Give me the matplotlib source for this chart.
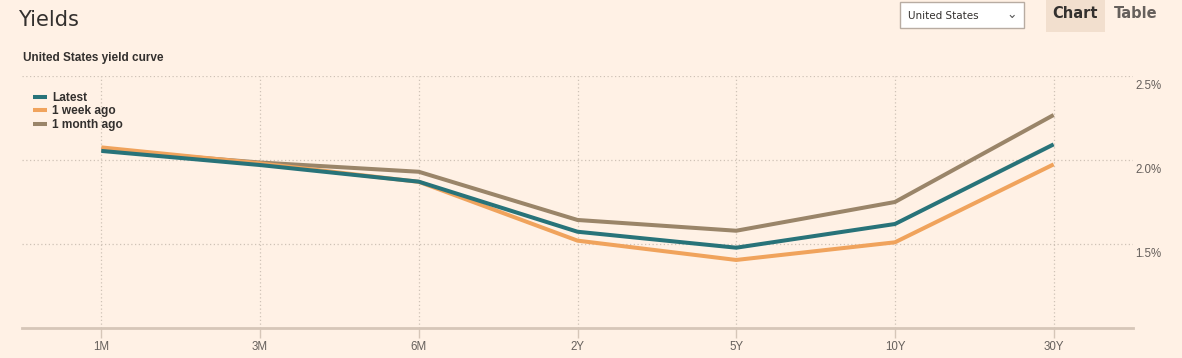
import matplotlib.pyplot as plt
from matplotlib.patches import Rectangle
from matplotlib.transforms import blended_transform_factory

maturities = ["1M", "3M", "6M", "2Y", "5Y", "10Y", "30Y"]
latest = [2.054, 1.970, 1.871, 1.573, 1.478, 1.619, 2.093]
week_ago = [2.075, 1.980, 1.870, 1.520, 1.405, 1.510, 1.974]
month_ago = [2.060, 1.985, 1.930, 1.643, 1.579, 1.750, 2.268]
y_ticks = [1.5, 2.0, 2.5]

BG = "#fff1e5"
GRID = "#cfc2b6"
TEXT = "#33302e"
TICK_TEXT = "#66605c"
ARIAL = "Liberation Sans"

fig = plt.figure(figsize=(11.82, 3.58), dpi=100, facecolor=BG)
ax = fig.add_axes([22 / 1182, 1 - 328 / 358, (1133 - 22) / 1182, (328 - 76) / 358])
ax.set_facecolor(BG)

x = range(len(maturities))
ax.plot(x, month_ago, color="#9a8569", lw=2.9, solid_capstyle="butt", label="1 month ago", zorder=3)
ax.plot(x, week_ago, color="#f0a35c", lw=2.9, solid_capstyle="butt", label="1 week ago", zorder=4)
ax.plot(x, latest, color="#287379", lw=2.9, solid_capstyle="butt", label="Latest", zorder=5)

ax.set_xlim(-0.5, len(maturities) - 0.5)
ax.set_ylim(1.0, 2.5)

for spine in ["top", "right", "left"]:
    ax.spines[spine].set_visible(False)
ax.spines["bottom"].set_color("#d6c6b8")
ax.spines["bottom"].set_linewidth(2)

ax.set_xticks(list(x))
ax.set_xticklabels(maturities, fontsize=8.3, color=TICK_TEXT, family=ARIAL)
ax.tick_params(axis="x", length=7, color="#d6c6b8", width=1, pad=2)
ax.set_yticks(y_ticks)
ax.set_yticklabels([])
ax.tick_params(axis="y", length=0)
ax.grid(True, which="major", color=GRID, linestyle=(0, (1, 2)), linewidth=0.9)

trans = blended_transform_factory(ax.transAxes, ax.transData)
for v in y_ticks:
    ax.text(1.002, v - 0.025, f"{v:.1f}%", transform=trans, ha="left", va="top",
            fontsize=8.3, color=TICK_TEXT, family=ARIAL)

handles, labels = ax.get_legend_handles_labels()
leg = ax.legend(handles[::-1], labels[::-1], loc="upper left", bbox_to_anchor=(0.0, 0.978),
                frameon=False, handlelength=1.2, handletextpad=0.45, labelspacing=0.1,
                prop={"weight": "bold", "size": 8.6, "family": ARIAL})
for t in leg.get_texts():
    t.set_color(TEXT)

fig.text(18 / 1182, 1 - 20 / 358, "Yields", fontsize=15, color=TEXT, va="center", ha="left")
fig.text(23 / 1182, 1 - 58 / 358, "United States yield curve", fontsize=8.5, weight="bold",
         color=TEXT, va="center", ha="left", family=ARIAL)

# dropdown and view toggles
fig.patches.append(Rectangle((900 / 1182, 1 - 28 / 358), 124 / 1182, 26 / 358,
                             transform=fig.transFigure, facecolor="white",
                             edgecolor="#b8aca2", lw=1))
fig.text(908 / 1182, 1 - 16 / 358, "United States", fontsize=7.5, color="#33302e", va="center")
fig.text(1012 / 1182, 1 - 15 / 358, "⌄", fontsize=9, color="#555", va="center", ha="center")
fig.patches.append(Rectangle((1046 / 1182, 1 - 32 / 358), 59 / 1182, 32 / 358,
                             transform=fig.transFigure, facecolor="#f2dfce", edgecolor="none"))
fig.text(1075 / 1182, 1 - 14 / 358, "Chart", fontsize=10.5, weight="bold", color="#33302e",
         va="center", ha="center")
fig.text(1136 / 1182, 1 - 14 / 358, "Table", fontsize=10.5, weight="bold", color="#66605c",
         va="center", ha="center")

fig.savefig("out.png", dpi=100, facecolor=BG)
